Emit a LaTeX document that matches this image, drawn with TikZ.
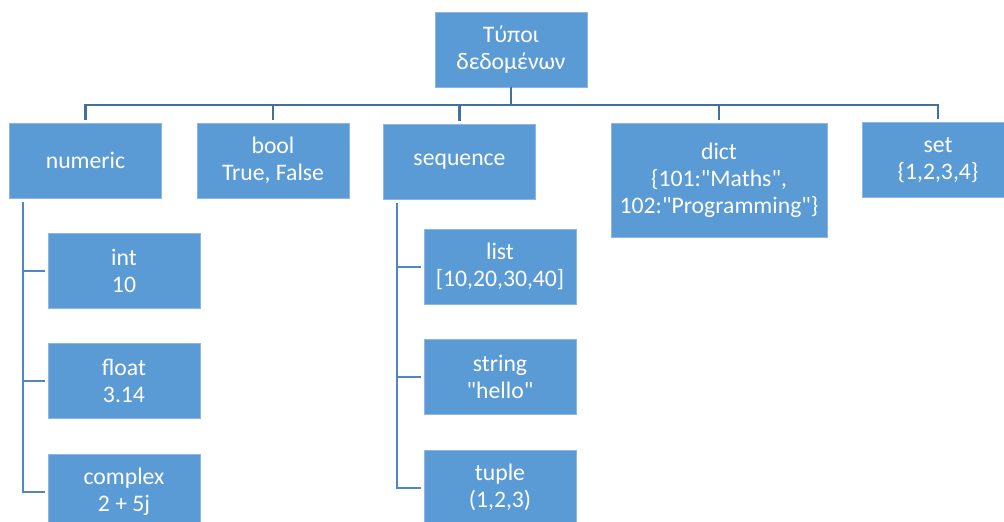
\documentclass[tikz,border=0pt]{standalone}
\usepackage{fontspec}
\setmainfont{Carlito}[Ligatures=TeXOff]
\definecolor{boxblue}{HTML}{5B9BD5}
\definecolor{boxedge}{HTML}{8FB6E2}
\definecolor{busblue}{HTML}{41719C}
\definecolor{subblue}{HTML}{4F87C2}
\begin{document}
\begin{tikzpicture}[x=1pt,y=-1pt,
  typebox/.style={rectangle, fill=boxblue, draw=boxedge, line width=0.7pt,
    text=white, align=center, inner sep=0pt,
    minimum width=152pt, minimum height=75pt,
    font=\fontsize{23.7}{27}\selectfont},
  bus/.style={draw=busblue, line width=2.2pt},
  sub/.style={draw=subblue, line width=2pt}]
\useasboundingbox (0,0) rectangle (1004,522);
\clip (0,0) rectangle (1004,522);

% root and first level
\node[typebox] (root) at (511,49.5) {Τύποι\\δεδομένων};
\node[typebox] (numeric) at (85.5,160.5) {numeric};
\node[typebox] (bool) at (273,160.5) {bool\\True, False};
\node[typebox] (sequence) at (459.5,161.5) {sequence};
\node[typebox, minimum width=216pt, minimum height=114pt] (dict) at (719,180)
  {dict\\\{101:"Maths",\\102:"Programming"\}};
\node[typebox] (set) at (938,160) {set\\\{1,2,3,4\}};

% numeric subtypes
\node[typebox] (int) at (124,270.5) {int\\10};
\node[typebox] (float) at (124,381) {float\\3.14};
\node[typebox] (complex) at (124,491.5) {complex\\2 + 5j};

% sequence subtypes
\node[typebox] (list) at (500,266.5) {list\\{[}10,20,30,40{]}};
\node[typebox] (string) at (500,377) {string\\"hello"};
\node[typebox] (tuple) at (500,487.5) {tuple\\(1,2,3)};

% top-level bus
\coordinate (hub) at ([yshift=-18pt]root.south);
\draw[bus] (root.south) -- (hub);
\foreach \c in {numeric,bool,sequence,dict,set}
  \draw[bus] (hub) -| ([yshift=3pt]\c.north);

% spines of the grouped types
\coordinate (nspine) at ([xshift=14pt,yshift=-4pt]numeric.south west);
\foreach \c in {int,float,complex}
  \draw[sub] (nspine) |- ([xshift=-3pt]\c.west);
\coordinate (sspine) at ([xshift=14pt,yshift=-4pt]sequence.south west);
\foreach \c in {list,string,tuple}
  \draw[sub] (sspine) |- ([xshift=-3pt]\c.west);
\end{tikzpicture}
\end{document}
